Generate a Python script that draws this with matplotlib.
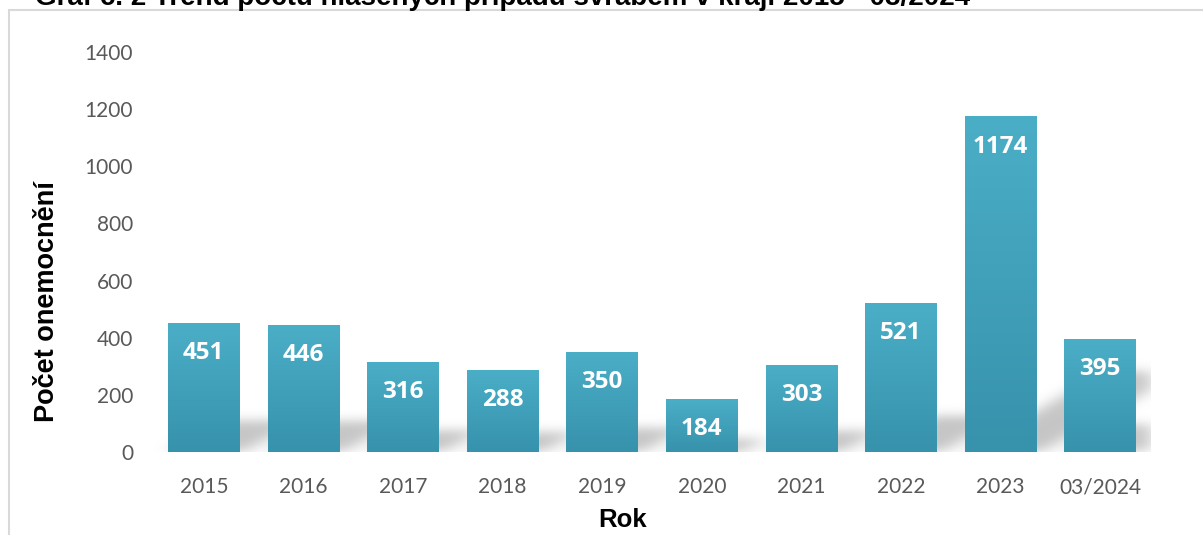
import numpy as np
import matplotlib
matplotlib.use("Agg")
import matplotlib.pyplot as plt
from matplotlib.path import Path
from matplotlib.patches import Rectangle

# data
years = ['2015', '2016', '2017', '2018', '2019', '2020', '2021', '2022', '2023', '03/2024']
cases = [451, 446, 316, 288, 350, 184, 303, 521, 1174, 395]
yticks = [0, 200, 400, 600, 800, 1000, 1200, 1400]

title = 'Graf č. 2 Trend počtu hlášených případů svrabem v kraji 2015 - 03/2024'

fig = plt.figure(figsize=(12.03, 5.35), dpi=100)
ax = fig.add_axes([0.128, 0.155, 0.828, 0.748])

x = np.arange(len(years))
width = 0.72

# blurred perspective shadow behind the bars
nx, ny = 1000, 700
gx = np.linspace(-0.5, len(years) - 0.5, nx)
gy = np.linspace(0, 1400, ny)
GX, GY = np.meshgrid(gx, gy)
pts = np.column_stack([GX.ravel(), GY.ravel()])
mask = np.zeros(nx * ny)
for xi, h in zip(x, cases):
    sx = 0.0012 * h
    sy = 0.24 * h
    poly = Path([(xi - width / 2, 0), (xi + width / 2 + 0.05, 0),
                 (xi + width / 2 + 0.05 + sx, sy), (xi - width / 2 + sx, sy)])
    mask = np.maximum(mask, poly.contains_points(pts).astype(float))
mask = mask.reshape(ny, nx)
k = np.exp(-0.5 * (np.arange(-30, 31) / 9.0) ** 2)
k /= k.sum()
mask = np.apply_along_axis(lambda r: np.convolve(r, k, mode='same'), 1, mask)
mask = np.apply_along_axis(lambda c: np.convolve(c, k, mode='same'), 0, mask)
shadow = np.zeros((ny, nx, 4))
shadow[..., :3] = 0.55
shadow[..., 3] = 0.5 * mask
ax.imshow(shadow, extent=(-0.5, len(years) - 0.5, 0, 1400), origin='lower',
          aspect='auto', zorder=1, interpolation='bilinear')

# gradient bars
top_c = np.array([0x4B, 0xAE, 0xC7]) / 255
bot_c = np.array([0x37, 0x92, 0xAC]) / 255
grad = np.linspace(0, 1, 256)[:, None, None] * (top_c - bot_c) + bot_c
grad = np.repeat(grad, 2, axis=1)
for xi, h in zip(x, cases):
    im = ax.imshow(grad, extent=(xi - width / 2, xi + width / 2, 0, h), origin='lower',
                   aspect='auto', zorder=2)
    rect = Rectangle((xi - width / 2, 0), width, h, transform=ax.transData)
    im.set_clip_path(rect)
    ax.text(xi, h - 105, str(h), ha='center', va='center', color='white',
            fontsize=17.5, fontweight='bold', family='Open Sans', zorder=3)

ax.set_xlim(-0.5, len(years) - 0.5)
ax.set_ylim(0, 1400)
ax.set_xticks(x)
ax.set_xticklabels(years, fontsize=15, color='#595959', family='Lato')
ax.set_yticks(yticks)
ax.set_yticklabels([str(t) for t in yticks], fontsize=15, color='#595959', family='Lato')
ax.tick_params(length=0)
ax.tick_params(axis='x', pad=18)
ax.tick_params(axis='y', pad=15)
for s in ax.spines.values():
    s.set_visible(False)

ax.set_ylabel('Počet onemocnění', fontsize=19.5, fontweight='bold', family='Liberation Sans')
ax.yaxis.set_label_coords(-0.094, 0.375)
ax.set_xlabel('Rok', fontsize=18.5, fontweight='bold', family='Liberation Sans')
ax.xaxis.set_label_coords(0.47, -0.14)

# outer frame and clipped title
fig.patches.append(Rectangle((9 / 1203, -0.1), 1.2, 1 - 10 / 535 + 0.1,
                             transform=fig.transFigure, fill=False,
                             edgecolor='#d9d9d9', linewidth=1.5))
fig.text(35 / 1203, 1 - 5 / 535, title, fontsize=20, fontweight='bold',
         family='Liberation Sans', va='baseline', ha='left')

plt.savefig('out.png', dpi=100)
